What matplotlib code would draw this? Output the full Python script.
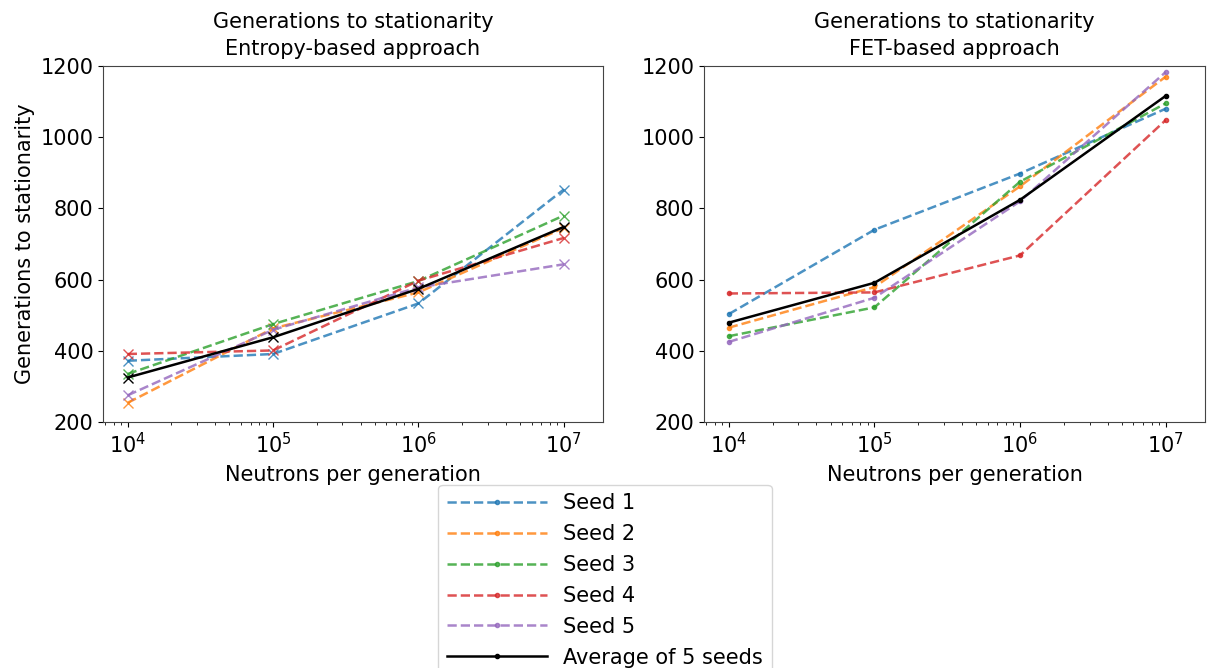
import matplotlib
matplotlib.use("Agg")
import matplotlib.pyplot as plt

neutrons = [1e4, 1e5, 1e6, 1e7]
seed_labels = ["Seed 1", "Seed 2", "Seed 3", "Seed 4", "Seed 5"]

# Entropy-based approach
entropy_seeds = [
    [372, 391, 533, 853],
    [254, 463, 564, 745],
    [335, 475, 596, 780],
    [391, 401, 597, 717],
    [275, 459, 578, 643],
]
entropy_avg = [325, 438, 574, 748]

# FET-based approach
fet_seeds = [
    [503, 740, 898, 1080],
    [465, 579, 862, 1170],
    [441, 522, 875, 1095],
    [561, 564, 668, 1048],
    [425, 549, 820, 1183],
]
fet_avg = [479, 591, 824, 1116]

colors = ["#1f77b4", "#ff7f0e", "#2ca02c", "#d62728", "#9467bd"]

plt.rcParams["font.size"] = 15
plt.rcParams["axes.edgecolor"] = "#444444"

fig = plt.figure(figsize=(12.07, 6.68), dpi=100)
W, H = 1207, 668
ax1 = fig.add_axes([103 / W, (H - 422) / H, 500 / W, 356 / H])
ax2 = fig.add_axes([704 / W, (H - 422) / H, 501 / W, 356 / H])


def draw(ax, seeds, avg, marker, title):
    handles = []
    ms = 7 if marker == "x" else 6
    for vals, c, lab in zip(seeds, colors, seed_labels):
        ax.plot(neutrons, vals, linestyle="--", marker=marker, color=c,
                alpha=0.8, linewidth=1.8, markersize=ms)
        h, = ax.plot([], [], linestyle="--", marker=".", color=c, alpha=0.8,
                     linewidth=1.8, markersize=6, label=lab)
        handles.append(h)
    ax.plot(neutrons, avg, color="black", marker=marker, linewidth=1.8,
            markersize=ms)
    h, = ax.plot([], [], color="black", marker=".", linewidth=1.8,
                 markersize=6, label="Average of 5 seeds")
    handles.append(h)
    ax.set_xscale("log")
    ax.set_ylim(200, 1200)
    ax.set_xlim(10 ** 3.83, 10 ** 7.27)
    ax.set_title(title, fontsize=15, linespacing=1.4, pad=8)
    ax.set_xlabel("Neutrons per generation", labelpad=6)
    return handles


handles = draw(ax1, entropy_seeds, entropy_avg, "x",
               "Generations to stationarity\nEntropy-based approach")
draw(ax2, fet_seeds, fet_avg, ".",
     "Generations to stationarity\nFET-based approach")
ax1.set_ylabel("Generations to stationarity")

fig.legend(handles=handles, loc="upper center", borderaxespad=0,
           bbox_to_anchor=(605 / W, 1 - 485 / H), fontsize=15,
           handlelength=4.8, labelspacing=0.52)

fig.savefig("out.png", dpi=100)
